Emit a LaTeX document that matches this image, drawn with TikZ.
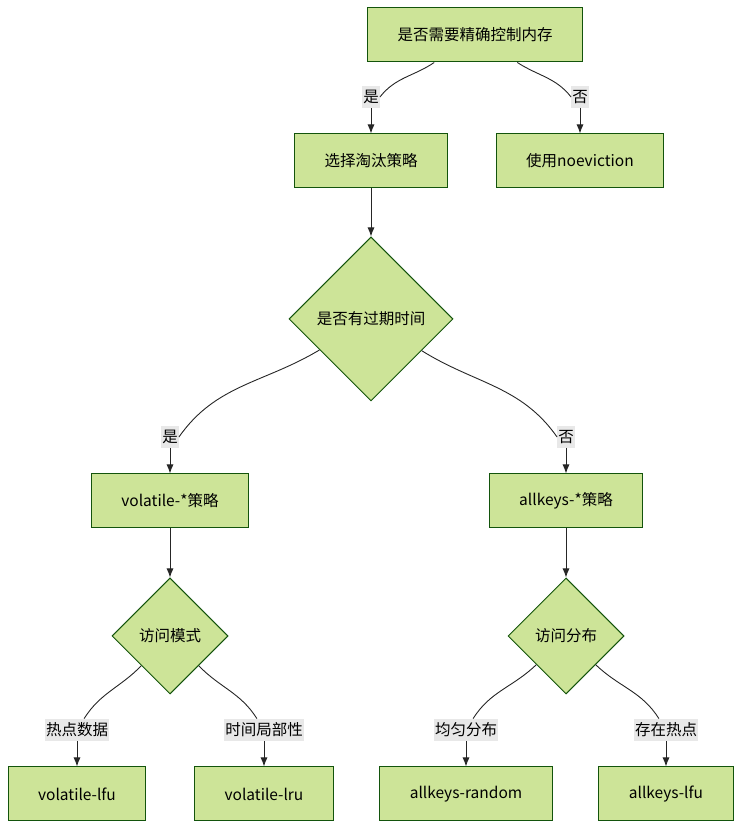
\documentclass[tikz,border=0pt]{standalone}
\usepackage{fontspec}
\setmainfont{Noto Sans CJK SC}
\usetikzlibrary{shapes.geometric, positioning, arrows.meta}
\definecolor{leaf}{HTML}{CDE498}
\definecolor{rim}{HTML}{13540C}
\definecolor{tagfill}{HTML}{E8E8E8}
\tikzset{
x=1pt, y=1pt, % one unit is one pixel of the layout
>={Latex[length=9pt, width=7pt]}, % solid arrow heads
node distance=64pt, % label sits this far above its target
on grid,
every node/.style={font=\fontsize{15.5}{18}\selectfont},
box/.style={draw=rim, fill=leaf, line width=1pt, minimum height=54pt, inner xsep=30pt}, % plain step
choice/.style={diamond, draw=rim, fill=leaf, line width=1pt, aspect=1, inner sep=0pt}, % decision
tag/.style={fill=tagfill, inner xsep=1pt, inner ysep=4pt}, % edge label
link/.style={line width=0.9pt, draw=black!85},
}
\begin{document}
\begin{tikzpicture}
      \useasboundingbox (0,0) rectangle (748,838);
      \node[box] (ctrl) at (475,803) {是否需要精确控制内存};
      \node[box, below left=126pt and 104pt of ctrl] (pick) {选择淘汰策略};
      \node[box, right=209pt of pick] (noevict) {使用noeviction};
      \node[choice, minimum size=164pt, below=158pt of pick] (expire) {是否有过期时间};
      \node[box, below left=182pt and 201pt of expire] (vol) {volatile-*策略};
      \node[box, right=396pt of vol] (allk) {allkeys-*策略};
      \node[choice, minimum size=116pt, below=135pt of vol] (vmode) {访问模式};
      \node[choice, minimum size=116pt, below=135pt of allk] (adist) {访问分布};
      \node[box, below left=158pt and 93pt of vmode] (vlfu) {volatile-lfu};
      \node[box, right=187pt of vlfu] (vlru) {volatile-lru};
      \node[box, below left=158pt and 100pt of adist] (arand) {allkeys-random};
      \node[box, right=200pt of arand] (alfu) {allkeys-lfu};
      % edge labels, each just above its target
      \node[tag, above=of pick] (t1) {是};
      \node[tag, above=of noevict] (t2) {否};
      \node[tag, above=of vol] (t3) {是};
      \node[tag, above=of allk] (t4) {否};
      \node[tag, above=of vlfu] (t5) {热点数据};
      \node[tag, above=of vlru] (t6) {时间局部性};
      \node[tag, above=of arand] (t7) {均匀分布};
      \node[tag, above=of alfu] (t8) {存在热点};
      % connectors
      \draw[link] (ctrl) to[out=214, in=52] (t1.east);
      \draw[link] (ctrl) to[out=-33, in=128] (t2.west);
      \draw[link] (expire) to[out=211, in=55] (t3.east);
      \draw[link] (expire) to[out=-32, in=125] (t4.west);
      \draw[link] (vmode) to[out=226, in=58] (t5);
      \draw[link] (vmode) to[out=-46, in=122] (t6);
      \draw[link] (adist) to[out=224, in=58] (t7);
      \draw[link] (adist) to[out=-44, in=122] (t8);
      \draw[link, ->] (t1) -- (pick);
      \draw[link, ->] (t2) -- (noevict);
      \draw[link, ->] (pick) -- (expire);
      \draw[link, ->] (t3) -- (vol);
      \draw[link, ->] (t4) -- (allk);
      \draw[link, ->] (vol) -- (vmode);
      \draw[link, ->] (allk) -- (adist);
      \draw[link, ->] (t5) -- (vlfu);
      \draw[link, ->] (t6) -- (vlru);
      \draw[link, ->] (t7) -- (arand);
      \draw[link, ->] (t8) -- (alfu);
\end{tikzpicture}
\end{document}
